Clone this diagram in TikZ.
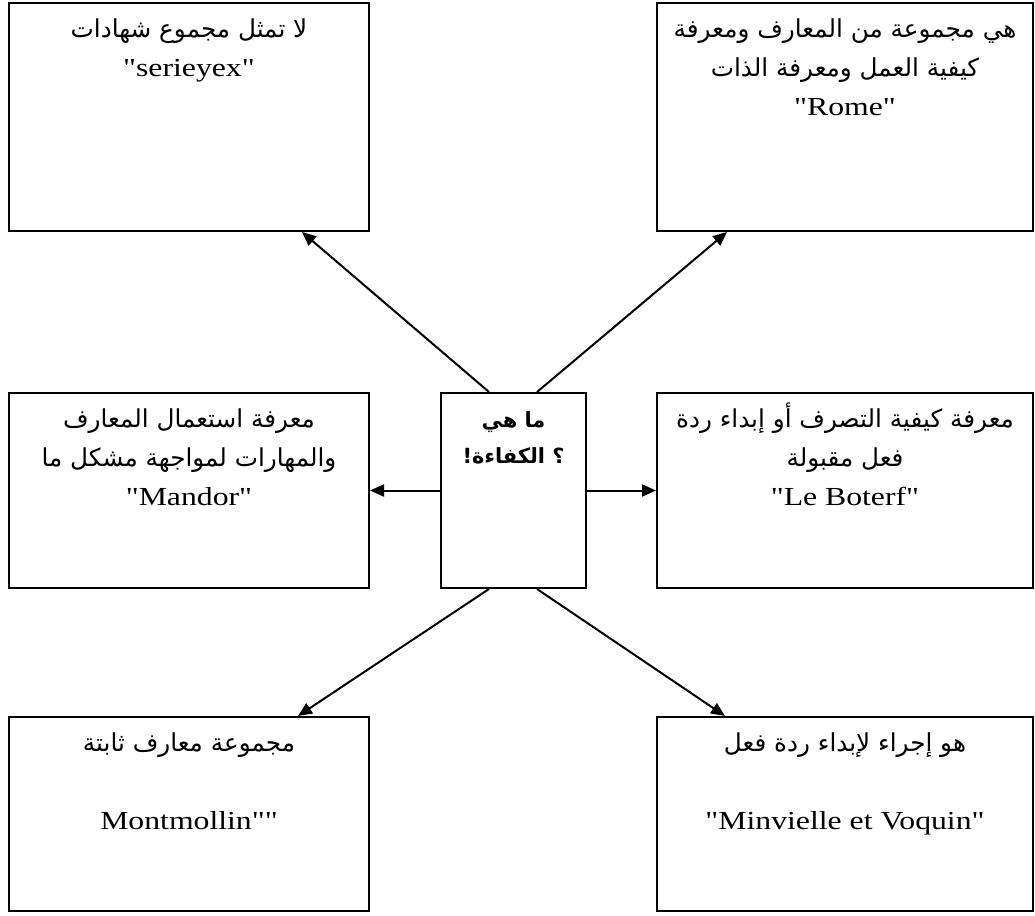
\documentclass[tikz,border=0pt]{standalone}
\usepackage{fontspec}
\setmainfont{Liberation Serif}[Ligatures=TeXOff, FakeStretch=1.22]
\newfontfamily\arabicfont[Script=Arabic,Scale=0.95]{DejaVu Sans}
\TeXXeTstate=1
\usepackage{tikz}
\usetikzlibrary{
  arrows.meta,
  positioning
}
\newcommand{\arline}[1]{{\arabicfont\strut\beginR #1\endR}}
\tikzset{
  defBox/.style={
    rectangle,
    draw=black,
    line width=2pt,
    inner sep=0pt
  },
  leftBox/.style={
    defBox,
    minimum width=360pt
  },
  rightBox/.style={
    defBox,
    minimum width=376pt
  },
  defText/.style={
    align=center,
    inner sep=0pt,
    font=\fontsize{26}{39}\selectfont
  },
  defArrow/.style={
    -{Triangle[length=14pt,width=12pt]},
    line width=2pt
  }
}

\begin{document}
\begin{tikzpicture}[x=1pt, y=-1pt]
  \useasboundingbox (0,0) rectangle (1035,915);

  \node[defBox, minimum width=145pt, minimum height=195pt]
    (kafaa) at (513.5,490.5) {};

  \node[leftBox, minimum height=228pt] (serieyex) at (189,117) {};
  \node[rightBox, minimum height=228pt] (rome) at (845,117) {};
  \node[leftBox, minimum height=195pt] (mandor) at (189,490.5) {};
  \node[rightBox, minimum height=195pt] (boterf) at (845,490.5) {};
  \node[leftBox, minimum height=194pt] (montmollin) at (189,814) {};
  \node[rightBox, minimum height=194pt] (voquin) at (845,814) {};

  \node[defText, font=\fontsize{22}{36}\selectfont\bfseries,
    below=10pt of kafaa.north] (kafaa-text)
    {\arline{ما هي}\\\arline{\hbox{؟} \hbox{الكفاءة}\hbox{!}}};

  \node[defText, below=8pt of serieyex.north] (serieyex-text)
    {\arline{لا تمثل مجموع شهادات}\\"serieyex"};
  \node[defText, below=8pt of rome.north] (rome-text)
    {\arline{هي مجموعة من المعارف ومعرفة}\\
     \arline{كيفية العمل ومعرفة الذات}\\"Rome"};
  \node[defText, below=8pt of mandor.north] (mandor-text)
    {\arline{معرفة استعمال المعارف}\\
     \arline{والمهارات لمواجهة مشكل ما}\\"Mandor"};
  \node[defText, below=8pt of boterf.north] (boterf-text)
    {\arline{معرفة كيفية التصرف أو إبداء ردة}\\
     \arline{فعل مقبولة}\\"Le Boterf"};
  \node[defText, below=8pt of montmollin.north] (montmollin-text)
    {\arline{مجموعة معارف ثابتة}\\[39pt]Montmollin""};
  \node[defText, below=8pt of voquin.north] (voquin-text)
    {\arline{هو إجراء لإبداء ردة فعل}\\[39pt]"Minvielle et Voquin"};

  \draw[defArrow] ([xshift=-24.5pt]kafaa.north) -- ([xshift=113pt]serieyex.south);
  \draw[defArrow] ([xshift=23.5pt]kafaa.north) -- ([xshift=-118pt]rome.south);
  \draw[defArrow] (kafaa.west) -- (mandor.east);
  \draw[defArrow] (kafaa.east) -- (boterf.west);
  \draw[defArrow] ([xshift=-24.5pt]kafaa.south) -- ([xshift=109pt]montmollin.north);
  \draw[defArrow] ([xshift=23.5pt]kafaa.south) -- ([xshift=-120pt]voquin.north);
\end{tikzpicture}
\end{document}
